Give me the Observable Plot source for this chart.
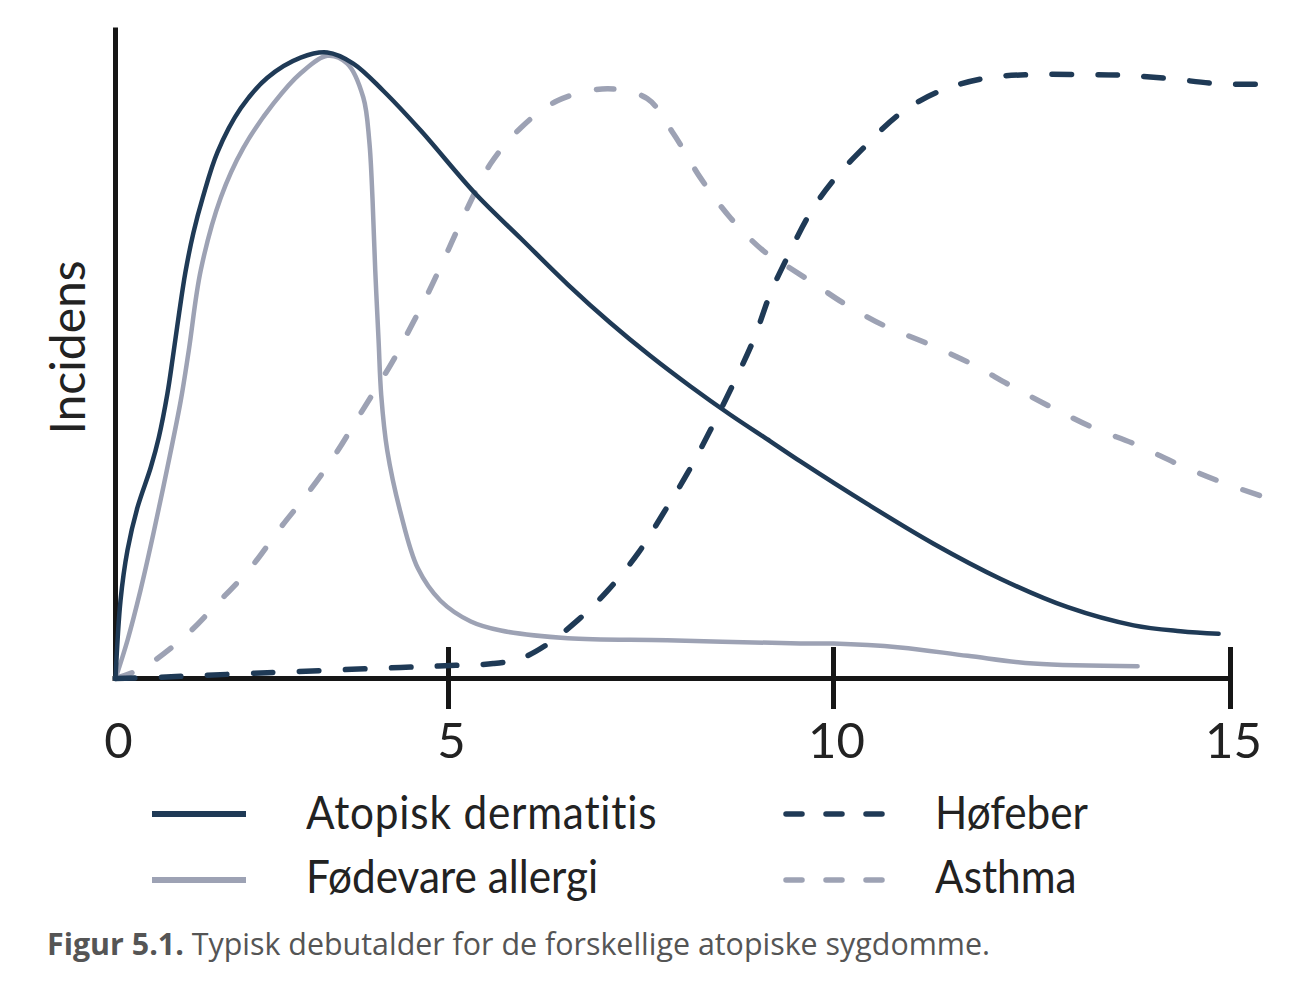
<!DOCTYPE html>
<html>
<head>
<meta charset="utf-8">
<script src="https://cdn.jsdelivr.net/npm/d3@7"></script>
<script src="https://cdn.jsdelivr.net/npm/@observablehq/plot@0.6"></script>
<style>
  html, body { margin: 0; padding: 0; background: #fff; }
  body { width: 1310px; height: 994px; position: relative; overflow: hidden; font-family: Lato, sans-serif; }
  #chart { position: absolute; left: 0; top: 0; }
  .sw { position: absolute; }
  .lt { position: absolute; font-family: Lato, sans-serif; font-size: 47px; line-height: 1; color: #222; white-space: nowrap; transform: scaleX(0.9); transform-origin: left center; }
  .caption { position: absolute; left: 47px; top: 929px; font-family: "Open Sans", "Noto Sans", sans-serif; font-size: 30.4px; line-height: 1; color: #555; white-space: nowrap; }
  .caption b { font-weight: 700; }
</style>
</head>
<body>
<div id="chart"></div>
<div id="legend"></div>
<div class="caption"><b>Figur 5.1.</b> Typisk debutalder for de forskellige atopiske sygdomme.</div>
<script>
// ---- data (age in years, incidence in arbitrary units 0-100) ----
const seriesNames = ["Atopisk dermatitis", "Fødevare allergi", "Høfeber", "Asthma"];
const ageTicks = [0, 5, 10, 15];
const yLabel = "Incidens";

const adAge = [0, 0.075, 0.18, 0.33, 0.53, 0.65, 0.78, 0.86, 0.95, 1.05, 1.17, 1.31, 1.53, 1.88, 2.28, 2.78, 3.18, 3.57, 4.02, 4.58, 5.35, 5.94, 6.55, 7.10, 7.62, 8.14, 8.66, 9.18, 9.57, 10.43, 11.26, 12.10, 12.95, 13.78, 14.37, 14.85];
const adInc = [0, 12.0, 19.8, 26.4, 32.6, 37.2, 44.0, 49.5, 56.0, 62.7, 68.8, 74.2, 81.2, 88.0, 92.7, 95.8, 96.6, 94.9, 90.7, 84.6, 74.8, 67.9, 60.8, 54.9, 49.8, 45.1, 40.7, 36.6, 33.5, 26.9, 20.8, 15.4, 11.0, 8.2, 7.3, 6.9];

const faAge = [0, 0.18, 0.375, 0.57, 0.78, 0.98, 1.10, 1.28, 1.58, 1.92, 2.37, 2.78, 3.18, 3.48, 3.72, 3.81, 3.86, 3.90, 3.95, 3.99, 4.08, 4.28, 4.54, 4.88, 5.29, 5.68, 6.55, 7.84, 9.57, 10.0, 10.84, 11.69, 12.52, 13.83];
const faInc = [0, 5.9, 13.6, 22.4, 32.6, 42.9, 50.6, 63.0, 74.2, 81.9, 88.7, 93.4, 96.1, 94.9, 89.7, 83.0, 73.8, 63.0, 52.2, 43.7, 35.2, 25.6, 17.0, 12.0, 8.8, 7.4, 6.2, 5.9, 5.4, 5.4, 4.8, 3.5, 2.3, 1.9];

const hfAge = [0, 0.53, 2.28, 4.28, 5.03, 5.58, 5.94, 6.26, 6.68, 7.07, 7.46, 7.79, 8.10, 8.40, 8.70, 8.96, 9.18, 9.40, 9.70, 10.0, 10.38, 10.84, 11.35, 11.94, 12.52, 13.11, 13.65, 14.21, 14.84, 15.42];
const hfInc = [0, 0.15, 0.9, 1.7, 2.0, 2.3, 3.1, 5.1, 9.0, 13.6, 19.3, 25.5, 31.6, 38.3, 45.5, 52.2, 59.4, 65.0, 71.9, 76.9, 81.9, 87.2, 90.7, 92.7, 93.2, 93.2, 93.1, 92.6, 91.8, 91.7];

const asAge = [0, 0.42, 1.02, 1.53, 2.03, 2.48, 2.88, 3.27, 3.68, 4.17, 4.35, 4.69, 4.99, 5.25, 5.55, 5.94, 6.42, 7.07, 7.58, 7.92, 8.27, 8.66, 9.09, 9.35, 9.74, 10.13, 10.63, 11.18, 11.73, 12.23, 12.77, 13.27, 13.83, 14.37, 14.91, 15.40];
const asInc = [0, 1.7, 6.3, 11.6, 17.1, 23.3, 28.5, 34.1, 40.9, 49.1, 52.6, 59.4, 66.0, 72.7, 79.5, 85.0, 89.2, 91.0, 89.5, 84.1, 77.3, 71.1, 66.0, 64.0, 61.0, 57.9, 54.5, 51.7, 48.6, 45.2, 41.7, 38.7, 36.0, 32.9, 30.2, 28.1];

// ---- styles ----
const NAVY = "#1f3a56";
const LIGHT = "#9da2b4";
const AXIS = "#161616";
const seriesStyle = {
  "Atopisk dermatitis": {stroke: NAVY, strokeWidth: 4.5, dash: null},
  "Fødevare allergi": {stroke: LIGHT, strokeWidth: 4.5, dash: null},
  "Høfeber": {stroke: NAVY, strokeWidth: 5.5, dash: "19.5,26.5"},
  "Asthma": {stroke: LIGHT, strokeWidth: 5.5, dash: "17.5,28.5"}
};

const rows = [];
function addSeries(name, ages, incs) {
  ages.forEach((a, i) => rows.push({serie: name, age: a, inc: incs[i]}));
}
addSeries(seriesNames[0], adAge, adInc);
addSeries(seriesNames[1], faAge, faInc);
addSeries(seriesNames[2], hfAge, hfInc);
addSeries(seriesNames[3], asAge, asInc);

const drawOrder = ["Asthma", "Fødevare allergi", "Høfeber", "Atopisk dermatitis"];
const lineMarks = drawOrder.map(name => {
  const s = seriesStyle[name];
  const opts = {
    x: "age", y: "inc", stroke: s.stroke, strokeWidth: s.strokeWidth,
    curve: "catmull-rom", strokeLinecap: "round", strokeLinejoin: "round"
  };
  if (s.dash) opts.strokeDasharray = s.dash;
  return Plot.line(rows.filter(d => d.serie === name), opts);
});

const chart = Plot.plot({
  width: 1310,
  height: 770,
  marginLeft: 115,
  marginRight: 80,
  marginTop: 30,
  marginBottom: 92,
  style: {fontFamily: "Lato, sans-serif", color: "#222", background: "#fff", overflow: "visible"},
  x: {type: "linear", domain: ageTicks, range: [115, 448, 833, 1230], label: null},
  y: {domain: [0, 100], axis: null, label: null},
  marks: [
    Plot.ruleX([0], {y1: 0, y2: 100, stroke: AXIS, strokeWidth: 5, strokeLinecap: "square"}),
    Plot.ruleY([0], {x1: 0, x2: 15, stroke: AXIS, strokeWidth: 5, strokeLinecap: "square"}),
    Plot.ruleX(ageTicks.slice(1), {y1: 0, y2: 0, insetTop: -31, insetBottom: -31, stroke: AXIS, strokeWidth: 5}),
    Plot.axisX(ageTicks, {tickSize: 0, tickPadding: 45, fontSize: 49, dx: 3, label: null, fill: "#222"}),
    Plot.text([yLabel], {frameAnchor: "left", textAnchor: "middle", rotate: -90, dx: -46, dy: -7, fontSize: 48, fill: "#222"}),
    ...lineMarks
  ]
});
document.getElementById("chart").appendChild(chart);

// ---- legend (HTML, below the plot) ----
const legendCols = [{sw: 152, tx: 306}, {sw: 783, tx: 935}];
const legendRows = [{mid: 814, base: 830}, {mid: 880, base: 894}];
const legendPlace = {
  "Atopisk dermatitis": [0, 0],
  "Fødevare allergi": [0, 1],
  "Høfeber": [1, 0],
  "Asthma": [1, 1]
};
const legend = document.getElementById("legend");
const svgNS = "http://www.w3.org/2000/svg";
seriesNames.forEach(name => {
  const [c, r] = legendPlace[name];
  const s = seriesStyle[name];
  const sw = document.createElementNS(svgNS, "svg");
  sw.setAttribute("class", "sw");
  sw.setAttribute("width", 110);
  sw.setAttribute("height", 14);
  sw.style.left = legendCols[c].sw + "px";
  sw.style.top = (legendRows[r].mid - 7) + "px";
  const ln = document.createElementNS(svgNS, "line");
  ln.setAttribute("y1", 7); ln.setAttribute("y2", 7);
  ln.setAttribute("stroke", s.stroke);
  if (s.dash) {
    ln.setAttribute("x1", 3); ln.setAttribute("x2", 100);
    ln.setAttribute("stroke-width", 5.5);
    ln.setAttribute("stroke-dasharray", "16,24");
    ln.setAttribute("stroke-linecap", "round");
  } else {
    ln.setAttribute("x1", 0); ln.setAttribute("x2", 94);
    ln.setAttribute("stroke-width", 6);
  }
  sw.appendChild(ln);
  legend.appendChild(sw);
  const t = document.createElement("div");
  t.className = "lt";
  t.textContent = name;
  t.style.left = legendCols[c].tx + "px";
  t.style.top = (legendRows[r].base - 41.7) + "px";
  if (name === "Atopisk dermatitis") t.style.letterSpacing = "0.9px";
  legend.appendChild(t);
});
</script>
</body>
</html>
